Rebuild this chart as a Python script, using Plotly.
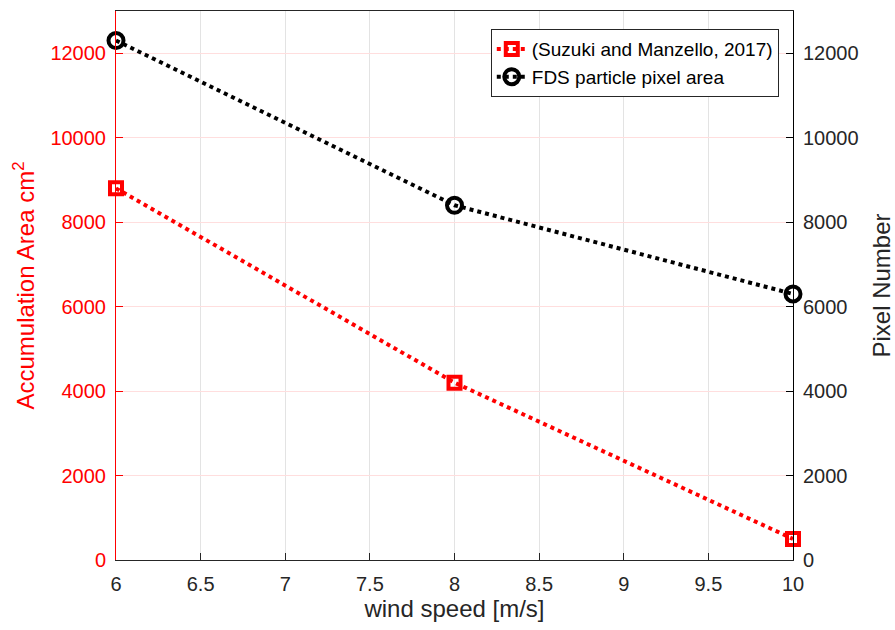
import plotly.graph_objects as go

# Wind speed (m/s)
wind_speed = [6, 8, 10]
# Accumulation area (cm^2), Suzuki and Manzello 2017
accum_area = [8800, 4200, 500]
# FDS particle pixel area (pixel count)
pixel_area = [12300, 8400, 6300]

x_ticks = [6, 6.5, 7, 7.5, 8, 8.5, 9, 9.5, 10]
y_ticks = [0, 2000, 4000, 6000, 8000, 10000, 12000]

FONT = "Liberation Sans, Arial, sans-serif"
RED = "#ff0000"
BLACK = "#000000"
DARK = "#262626"

fig = go.Figure()

fig.add_trace(go.Scatter(
    x=wind_speed, y=accum_area, name="(Suzuki and Manzello, 2017)",
    mode="lines+markers",
    line=dict(color=RED, width=4, dash="dot"),
    marker=dict(symbol="square-open", size=12, color=RED, line=dict(width=4, color=RED)),
    cliponaxis=False, yaxis="y",
))
fig.add_trace(go.Scatter(
    x=wind_speed, y=pixel_area, name="FDS particle pixel area",
    mode="lines+markers",
    line=dict(color=BLACK, width=4, dash="dot"),
    marker=dict(symbol="circle-open", size=15, color=BLACK, line=dict(width=4, color=BLACK)),
    cliponaxis=False, yaxis="y2",
))

fig.update_layout(
    width=895, height=630,
    margin=dict(l=116, r=102, t=11, b=70, autoexpand=False),
    paper_bgcolor="white", plot_bgcolor="white",
    font=dict(family=FONT, size=20, color=DARK),
    showlegend=True,
    legend=dict(
        x=0.979, y=0.967, xanchor="right", yanchor="top",
        bgcolor="white", bordercolor=DARK, borderwidth=1,
        font=dict(family=FONT, size=19, color=BLACK),
        tracegroupgap=0,
    ),
    xaxis=dict(
        range=[6, 10], tickvals=x_ticks, ticktext=[f"{v:g}" for v in x_ticks],
        showgrid=True, gridcolor="#e3e3e3", gridwidth=1,
        showline=True, linecolor=DARK, linewidth=1, mirror=True,
        ticks="inside", ticklen=7, tickcolor=DARK,
        tickfont=dict(size=20, color=DARK), ticklabelstandoff=6,
        title=dict(text="wind speed [m/s]", font=dict(size=24, color=DARK), standoff=4),
        zeroline=False,
    ),
    yaxis=dict(
        range=[0, 13000], tickvals=y_ticks, ticktext=[str(v) for v in y_ticks],
        showgrid=True, gridcolor="#ffdede", gridwidth=1,
        showline=True, linecolor=RED, linewidth=1,
        ticks="inside", ticklen=7, tickcolor=RED,
        tickfont=dict(size=20, color=RED), ticklabelstandoff=5,
        title=dict(text="Accumulation Area cm<sup>2</sup>", font=dict(size=24, color=RED), standoff=8),
        zeroline=False,
    ),
    yaxis2=dict(
        range=[0, 13000], tickvals=y_ticks, ticktext=[str(v) for v in y_ticks],
        overlaying="y", side="right", showgrid=False,
        showline=True, linecolor=BLACK, linewidth=1,
        ticks="inside", ticklen=7, tickcolor=BLACK,
        tickfont=dict(size=20, color=DARK), ticklabelstandoff=5,
        title=dict(text="Pixel Number", font=dict(size=24, color=DARK), standoff=16),
        zeroline=False,
    ),
)

fig.write_html("out.html")
